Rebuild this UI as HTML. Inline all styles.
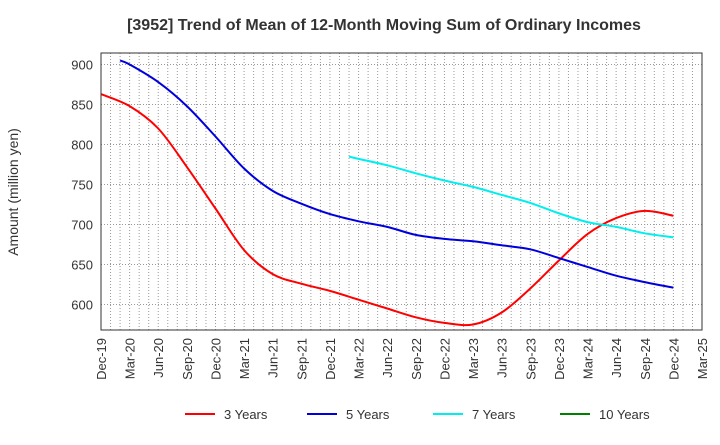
<!DOCTYPE html>
<html><head><meta charset="utf-8"><style>
body{margin:0;background:#fff;font-family:"Liberation Sans",Arial,sans-serif}
svg text{font-family:"Liberation Sans",Arial,sans-serif;fill:#333}
</style></head><body>
<svg id="c" width="720" height="440">
<text x="384" y="30" text-anchor="middle" font-size="16" font-weight="bold">[3952]  Trend of Mean of 12-Month Moving Sum of Ordinary Incomes</text>
<text transform="translate(18,192) rotate(-90)" text-anchor="middle" font-size="14">Amount (million yen)</text>
<g id="grid"></g><g id="series"></g><g id="axes"></g><g id="legend"></g>
</svg>
<script>
const xTickLabels=["Dec-19","Mar-20","Jun-20","Sep-20","Dec-20","Mar-21","Jun-21","Sep-21","Dec-21","Mar-22","Jun-22","Sep-22","Dec-22","Mar-23","Jun-23","Sep-23","Dec-23","Mar-24","Jun-24","Sep-24","Dec-24","Mar-25"];
const yTicks=[600,650,700,750,800,850,900];
// [monthIndex from Dec-19, value]
const months3=[0,3,6,9,12,15,18,21,24,27,30,33,36,39,42,45,48,51,54,57,60];
const vals3=[863,848,820,772,720,668,638,626,617,606,595,584,577,575,590,620,655,688,708,717,711];
const months5=[2,3,6,9,12,15,18,21,24,27,30,33,36,39,42,45,48,51,54,57,60];
const vals5=[905,900,878,848,810,770,742,726,713,704,697,687,682,679,674,669,658,647,636,628,621];
const months7=[26,27,30,33,36,39,42,45,48,51,54,57,60];
const vals7=[785,782,774,764,755,747,737,727,714,703,697,689,684];
const months10=[];const vals10=[];
const L=101,R=702,T=53,B=330;
const X=m=>L+m*(R-L)/63;
const Y=v=>304.5-(v-600)*0.8;
const NS="http://www.w3.org/2000/svg";
function mk(tag,at,parent){const e=document.createElementNS(NS,tag);for(const k in at)e.setAttribute(k,at[k]);parent.appendChild(e);return e;}
const grid=document.getElementById('grid'),axes=document.getElementById('axes'),ser=document.getElementById('series'),leg=document.getElementById('legend');
for(let m=1;m<63;m++){const g=mk('line',{x1:X(m),x2:X(m),y1:T,y2:B,stroke:'#999','stroke-dasharray':'1,2','stroke-width':1},grid);

}
yTicks.forEach(v=>{const g=mk('line',{x1:L,x2:R,y1:Y(v),y2:Y(v),stroke:'#999','stroke-dasharray':'1,2'},grid);


const t=mk('text',{x:L-8,y:Y(v)+5,'text-anchor':'end','font-size':13},axes);t.textContent=v;

});
xTickLabels.forEach((s,i)=>{const x=X(i*3);const t=mk('text',{transform:`translate(${x+5},${B+8}) rotate(-90)`,'text-anchor':'end','font-size':13},axes);t.textContent=s;

});
const fr=mk('rect',{x:L,y:T,width:R-L,height:B-T,fill:'none',stroke:'#333','stroke-width':1},axes);


function path(ms,vs){const p=ms.map((m,i)=>[X(m),Y(vs[i])]);if(!p.length)return '';let d=`M${p[0][0]},${p[0][1]}`;
for(let i=0;i<p.length-1;i++){const p0=p[i-1]||p[i],p1=p[i],p2=p[i+1],p3=p[i+2]||p2;
d+=` C${p1[0]+(p2[0]-p0[0])/6},${p1[1]+(p2[1]-p0[1])/6} ${p2[0]-(p3[0]-p1[0])/6},${p2[1]-(p3[1]-p1[1])/6} ${p2[0]},${p2[1]}`;}return d;}
const S=[["3 Years",months3,vals3,"#ff0000",185],["5 Years",months5,vals5,"#0000dd",307],["7 Years",months7,vals7,"#00eeee",433],["10 Years",months10,vals10,"#008000",560]];
S.forEach(([n,m,v,c,lx])=>{if(m.length){const p=mk('path',{d:path(m,v),fill:'none',stroke:c,'stroke-width':2},ser);

}
const g=mk('g',{},leg);


mk('line',{x1:lx,x2:lx+30,y1:414,y2:414,stroke:c,'stroke-width':2},g);
const t=mk('text',{x:lx+39,y:419,'font-size':13},g);t.textContent=n;});
</script>
</body></html>
